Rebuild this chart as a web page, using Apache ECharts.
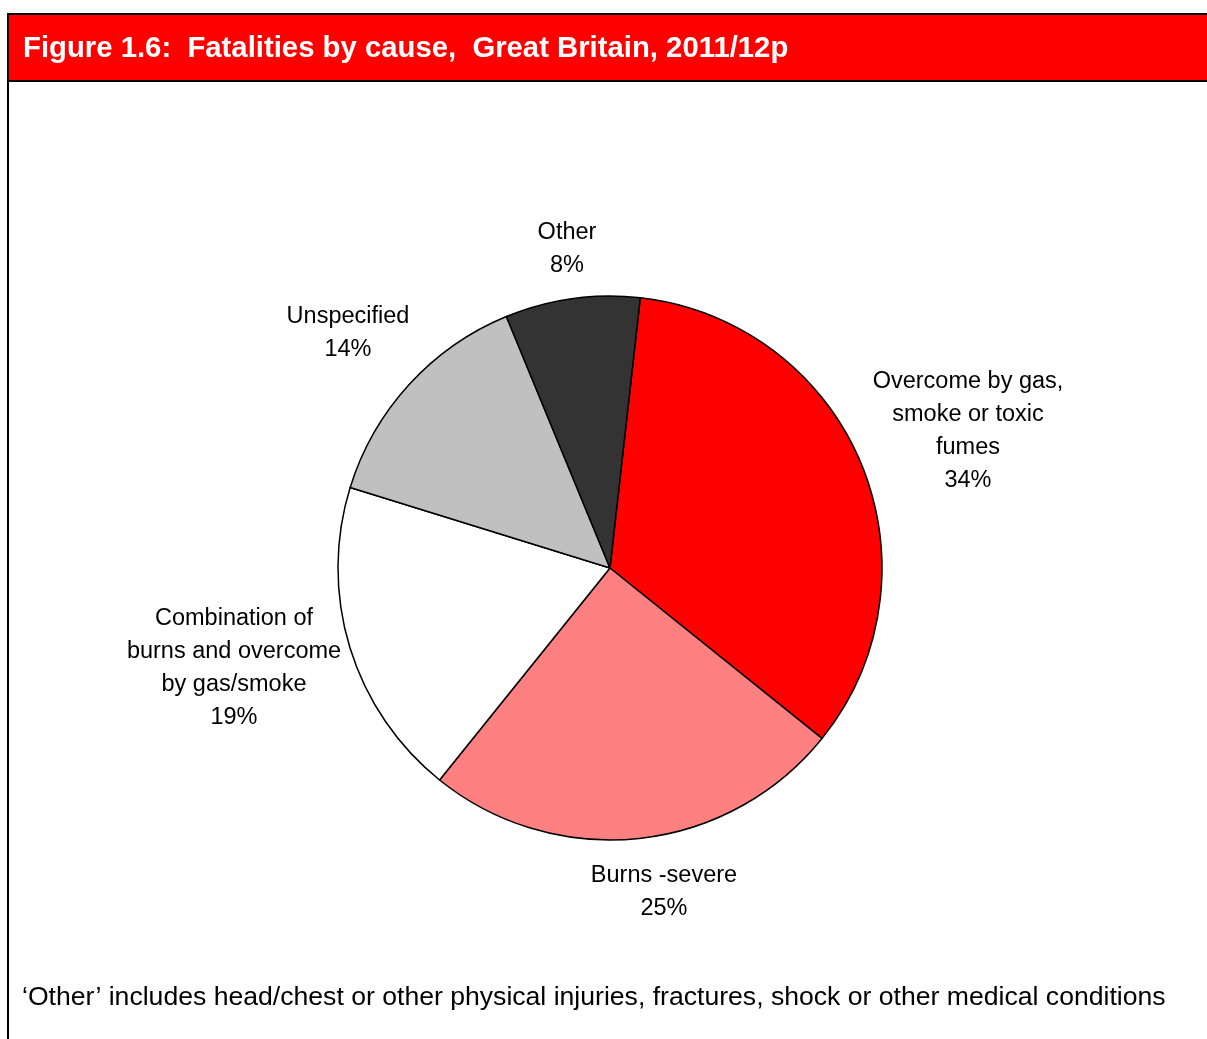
<!DOCTYPE html>
<html>
<head>
<meta charset="utf-8">
<script src="https://cdn.jsdelivr.net/npm/echarts@6/dist/echarts.min.js"></script>
<style>
  html, body { margin: 0; padding: 0; background: #fff; }
  #chart { width: 1207px; height: 1039px; }
</style>
</head>
<body>
<div id="chart"></div>
<script>
// Fatalities by cause, Great Britain, 2011/12p (percent of all fatalities)
const causes = [
  'Overcome by gas,\nsmoke or toxic\nfumes',
  'Burns -severe',
  'Combination of\nburns and overcome\nby gas/smoke',
  'Unspecified',
  'Other'
];
const shares = [34, 25, 19, 14, 8];
const sliceColors = ['#FF0000', '#FF8080', '#FFFFFF', '#C0C0C0', '#333333'];

const titleText = 'Figure 1.6:  Fatalities by cause,  Great Britain, 2011/12p';
const noteText = '\u2018Other\u2019 includes head/chest or other physical injuries, fractures, shock or other medical conditions';

// label anchor points (centre of each text block)
const labelAnchors = [[968, 431], [664, 892], [234, 668], [348, 333], [567, 249]];

const FONT = '"Liberation Sans", Arial, Helvetica, sans-serif';

const chart = echarts.init(document.getElementById('chart'), null, { renderer: 'canvas' });

chart.setOption({
  backgroundColor: '#ffffff',
  animation: false,
  graphic: [
    {
      type: 'rect',
      shape: { x: 8, y: 14, width: 1210, height: 67 },
      style: { fill: '#FF0000', stroke: '#000', lineWidth: 2 },
      z: 1
    },
    {
      type: 'line',
      shape: { x1: 8, y1: 14, x2: 8, y2: 1045 },
      style: { stroke: '#000', lineWidth: 2 },
      z: 2
    },
    {
      type: 'text',
      style: {
        x: 23, y: 49,
        text: titleText, fill: '#fff',
        font: 'bold 29.3px ' + FONT,
        align: 'left',
        verticalAlign: 'middle'
      },
      z: 3
    },
    {
      type: 'text',
      style: {
        x: 22, y: 998,
        text: noteText, fill: '#000',
        font: '26.6px ' + FONT,
        align: 'left',
        verticalAlign: 'middle'
      },
      z: 3
    }
  ],
  series: [{
    type: 'pie',
    center: [610, 568],
    radius: 272,
    startAngle: 83.6,
    clockwise: true,
    avoidLabelOverlap: false,
    itemStyle: { borderColor: '#000', borderWidth: 1.5 },
    label: {
      show: true,
      position: 'outside',
      formatter: '{b}\n{c}%',
      color: '#000',
      fontFamily: FONT,
      fontSize: 23.5,
      lineHeight: 33,
      align: 'center'
    },
    labelLine: { show: false },
    labelLayout: function (p) {
      const a = labelAnchors[p.dataIndex];
      return { x: a[0], y: a[1], align: 'center', verticalAlign: 'middle' };
    },
    emphasis: { disabled: true },
    data: causes.map((name, i) => ({
      name: name,
      value: shares[i],
      itemStyle: { color: sliceColors[i] }
    }))
  }]
});
</script>
</body>
</html>
